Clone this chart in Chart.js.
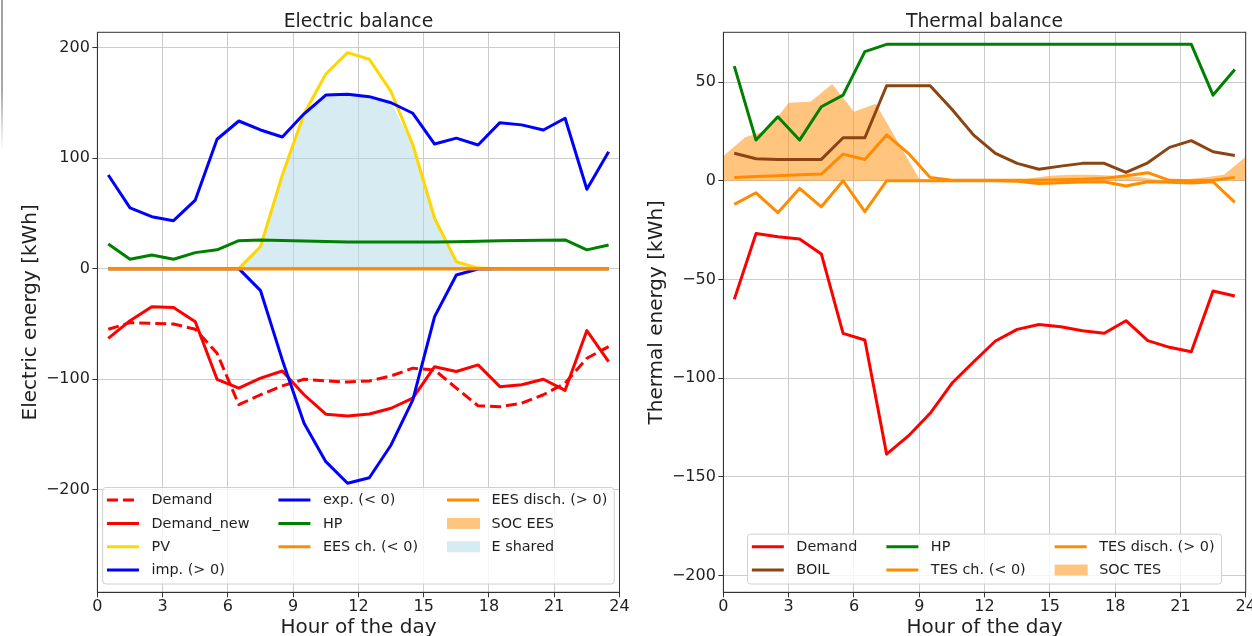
<!DOCTYPE html>
<html>
<head>
<meta charset="utf-8">
<title>Electric and thermal balance</title>
<script src="https://cdn.jsdelivr.net/npm/chart.js@4.4.1/dist/chart.umd.min.js"></script>
<style>
  html, body { margin: 0; padding: 0; background: #fff; width: 1252px; height: 636px; overflow: hidden; }
  canvas { position: absolute; top: 0; }
  #elec { left: 0; }
  #therm { left: 626px; }
  .edge { position: absolute; left: 1px; top: 0; width: 2px; height: 150px;
          background: linear-gradient(#a0a0a0, #a8a8a8 60%, rgba(170,170,170,0)); }
</style>
</head>
<body>
<div class="edge"></div>
<canvas id="elec" width="640" height="636"></canvas>
<canvas id="therm" width="626" height="636"></canvas>
<script>
// ---- time axis -------------------------------------------------------------
const hours = [0.5, 1.5, 2.5, 3.5, 4.5, 5.5, 6.5, 7.5, 8.5, 9.5, 10.5, 11.5,
               12.5, 13.5, 14.5, 15.5, 16.5, 17.5, 18.5, 19.5, 20.5, 21.5, 22.5, 23.5];
const socHours = [0, 1, 2, 3, 4, 5, 6, 7, 8, 9, 10, 11, 12,
                  13, 14, 15, 16, 17, 18, 19, 20, 21, 22, 23, 24];
const xTicks = [0, 3, 6, 9, 12, 15, 18, 21, 24];

// ---- electric balance [kWh] -----------------------------------------------
const elDemand    = [-54.8, -48.8, -49.4, -50, -54.8, -76.5, -123, -114, -106, -100, -101.5, -102.5,
                     -101.5, -97, -90, -91.6, -108, -124, -124.8, -121.7, -114, -103.6, -81, -70.5];
const elDemandNew = [-63, -47, -34.4, -35, -48, -100, -108, -99, -92.5, -114, -131.6, -133.2,
                     -131.4, -126.2, -117, -88.6, -93, -87, -106.7, -105, -100, -110, -56, -84];
const pv          = [0, 0, 0, 0, 0, 0, 0, 20, 84.7, 140, 176, 195.3,
                     189.3, 160, 112, 45.6, 6.3, 0.5, 0, 0, 0, 0, 0, 0];
const gridImport  = [84.7, 55, 47, 43.4, 62, 117, 133.5, 125.4, 119, 140, 157, 157.7,
                     155.5, 150, 140.5, 112.7, 118, 111.8, 132, 130, 125.4, 136, 71.8, 105.8];
const gridExport  = [0, 0, 0, 0, 0, 0, 0, -19.9, -82.5, -139.8, -174.5, -194,
                     -189, -159.4, -118.7, -43.4, -5.7, -0.3, 0, 0, 0, 0, 0, 0];
const elHP        = [22.3, 8.5, 12.4, 8.5, 14.5, 17, 25.3, 26, 25.5, 25, 24.5, 24,
                     24, 24, 24, 24, 24.3, 24.8, 25.2, 25.5, 25.7, 26, 17, 21.4];
const eesCharge   = [0, 0, 0, 0, 0, 0, 0, 0, 0, 0, 0, 0, 0, 0, 0, 0, 0, 0, 0, 0, 0, 0, 0, 0];
const eesDischarge= [0, 0, 0, 0, 0, 0, 0, 0, 0, 0, 0, 0, 0, 0, 0, 0, 0, 0, 0, 0, 0, 0, 0, 0];
const socEES      = [0, 0, 0, 0, 0, 0, 0, 0, 0, 0, 0, 0, 0, 0, 0, 0, 0, 0, 0, 0, 0, 0, 0, 0, 0];
const eShared     = [0, 0, 0, 0, 0, 0, 0, 20, 84.7, 140, 157, 157.7,
                     155.5, 150, 112, 45.6, 6.3, 0.5, 0, 0, 0, 0, 0, 0];
const elYTicks = [-200, -100, 0, 100, 200];

// ---- thermal balance [kWh] ------------------------------------------------
const thDemand    = [-60.1, -26.7, -28.4, -29.5, -37.1, -77.3, -80.7, -138.5, -129.3, -117.8, -102.6, -91.7,
                     -81.2, -75.3, -72.8, -74, -76, -77.3, -70.9, -81, -84.4, -86.6, -55.9, -58.4];
const boiler      = [13.9, 11.1, 10.8, 10.8, 10.8, 21.8, 21.8, 48.1, 48.1, 48.1, 36.2, 23.1,
                     13.9, 8.8, 5.8, 7.4, 8.8, 8.8, 4.2, 9.1, 16.9, 20.3, 14.7, 12.8];
const thHP        = [58.1, 20.6, 32.4, 20.6, 37.5, 43.4, 65.4, 69.1, 69.1, 69.1, 69.1, 69.1,
                     69.1, 69.1, 69.1, 69.1, 69.1, 69.1, 69.1, 69.1, 69.1, 69.1, 43.4, 56.4];
const tesCharge   = [-12, -6.1, -16.2, -3.9, -13.2, 0, -15.7, 0, 0, 0, 0, 0,
                     0, -0.3, -1.4, -1, -0.7, -0.5, -2.7, -0.5, -0.8, -1.2, -0.5, -11];
const tesDischarge= [1.7, 2.1, 2.5, 3.0, 3.4, 13.5, 10.8, 23.2, 13.9, 1.7, 0.3, 0.2,
                     0.2, 0.3, 0.2, 0.5, 0.8, 1.2, 2.5, 4.1, 0.2, 0, 0.3, 1.7];
const socTES      = [12.5, 22, 25.5, 39.5, 40, 49, 35, 39, 20, 1, 0, 0, 0,
                     0, 1, 2.5, 3, 3, 2.5, 2, 0.5, 0.5, 1.5, 3, 12.2];
const thYTicks = [-200, -150, -100, -50, 0, 50];

// ---- styling ---------------------------------------------------------------
const FONT = '"DejaVu Sans", "Liberation Sans", sans-serif';
const TEXT = '#1f1f1f';
Chart.defaults.font.family = FONT;
Chart.defaults.color = TEXT;

const pts = (xs, ys) => xs.map((x, i) => ({ x, y: ys[i] }));

function line(label, xs, ys, color, dash) {
  return {
    label, data: pts(xs, ys), borderColor: color, backgroundColor: color,
    borderWidth: 3, borderDash: dash || [], pointRadius: 0, tension: 0,
    borderJoinStyle: 'round', borderCapStyle: 'butt', fill: false
  };
}
function area(label, xs, ys, color) {
  return {
    label, data: pts(xs, ys), borderColor: 'rgba(0,0,0,0)', backgroundColor: color,
    borderWidth: 0, pointRadius: 0, tension: 0, fill: 'origin', legendBox: true
  };
}

// titles, frame and a column-major legend drawn on the canvas
const decorations = {
  id: 'decorations',
  afterDraw(chart, args, opts) {
    const ctx = chart.ctx, a = chart.chartArea;
    const cx = (a.left + a.right) / 2, cy = (a.top + a.bottom) / 2;
    ctx.save();

    // axes frame
    ctx.strokeStyle = '#333';
    ctx.lineWidth = 1;
    ctx.strokeRect(a.left, a.top, a.right - a.left, a.bottom - a.top);

    // title and axis labels
    ctx.fillStyle = TEXT;
    ctx.textAlign = 'center';
    ctx.textBaseline = 'alphabetic';
    ctx.font = '18.8px ' + FONT;
    ctx.fillText(opts.title, cx, 27);
    ctx.font = '20px ' + FONT;
    ctx.fillText(opts.xLabel, cx, 632.6);
    ctx.save();
    ctx.translate(35.5, cy);
    ctx.rotate(-Math.PI / 2);
    ctx.fillText(opts.yLabel, 0, 0);
    ctx.restore();

    // legend, three columns filled top to bottom
    const items = chart.data.datasets.map(d => ({
      label: d.label, box: !!d.legendBox,
      color: d.legendBox ? d.backgroundColor : d.borderColor,
      dash: d.borderDash || []
    }));
    const ncol = 3, n = items.length, nrows = Math.ceil(n / ncol);
    const nFull = n - ncol * (nrows - 1);
    const cols = [];
    let k = 0;
    for (let c = 0; c < ncol; c++) {
      const size = c < nFull ? nrows : nrows - 1;
      cols.push(items.slice(k, k + size));
      k += size;
    }
    const fs = 14.4;
    ctx.font = fs + 'px ' + FONT;
    const widths = cols.map(col => Math.max(...col.map(it => ctx.measureText(it.label).width)));
    const handleLen = 32, textOff = 44.5, colSep = 29, padL = 4.3, padR = 7;
    let W = padL + padR;
    cols.forEach((col, i) => { W += textOff + widths[i] + (i < ncol - 1 ? colSep : 0); });
    const x0 = cx - W / 2;
    const bottom = a.bottom - 8.3, rowStep = 23.3;
    const lastRow = bottom - 14;
    const firstRow = lastRow - (nrows - 1) * rowStep;
    const top = firstRow - 12.6;

    ctx.beginPath();
    ctx.roundRect(x0, top, W, bottom - top, 3);
    ctx.fillStyle = 'rgba(255,255,255,0.8)';
    ctx.fill();
    ctx.strokeStyle = '#d0d0d0';
    ctx.lineWidth = 1;
    ctx.stroke();

    let hx = x0 + padL;
    ctx.textAlign = 'left';
    ctx.textBaseline = 'middle';
    cols.forEach((col, i) => {
      col.forEach((it, r) => {
        const y = firstRow + r * rowStep;
        if (it.box) {
          ctx.fillStyle = it.color;
          ctx.fillRect(hx, y - 5.5, 33, 11);
        } else {
          ctx.beginPath();
          ctx.setLineDash(it.dash);
          ctx.strokeStyle = it.color;
          ctx.lineWidth = 3;
          ctx.moveTo(hx, y);
          ctx.lineTo(hx + handleLen, y);
          ctx.stroke();
          ctx.setLineDash([]);
        }
        ctx.fillStyle = TEXT;
        ctx.fillText(it.label, hx + textOff, y + 0.5);
      });
      hx += textOff + widths[i] + colSep;
    });
    ctx.restore();
  }
};

const minusFmt = v => (v < 0 ? '\u2212' + Math.abs(v) : String(v));

function makeChart(id, cfg) {
  return new Chart(document.getElementById(id), {
    type: 'line',
    data: { datasets: cfg.datasets.map((d, i, arr) => Object.assign(d, { order: arr.length - i })) },
    options: {
      responsive: false,
      animation: false,
      devicePixelRatio: 1,
      layout: { padding: { top: 32.3, right: cfg.padRight, bottom: 0, left: 0 } },
      plugins: {
        legend: { display: false },
        tooltip: { enabled: false },
        filler: { drawTime: 'beforeDatasetsDraw' },
        decorations: { title: cfg.title, xLabel: 'Hour of the day', yLabel: cfg.yLabel }
      },
      scales: {
        x: {
          type: 'linear', min: 0, max: 24,
          afterBuildTicks: s => { s.ticks = xTicks.map(v => ({ value: v })); },
          afterFit: s => { s.height = 43.7; s.paddingLeft = 0; s.paddingRight = 0; },
          ticks: { font: { size: 16 }, color: TEXT, padding: 0, maxRotation: 0, autoSkip: false },
          grid: { color: '#cccccc', lineWidth: 1, tickLength: 5, tickColor: '#333', tickWidth: 1 },
          border: { display: true, color: '#333', width: 1 }
        },
        y: {
          type: 'linear', min: cfg.yMin, max: cfg.yMax,
          afterBuildTicks: s => { s.ticks = cfg.yTicks.map(v => ({ value: v })); },
          afterFit: s => { s.width = 97.4; s.paddingTop = 0; s.paddingBottom = 0; },
          ticks: { font: { size: 16 }, color: TEXT, padding: 2.5, callback: minusFmt, autoSkip: false },
          grid: { color: '#cccccc', lineWidth: 1, tickLength: 5, tickColor: '#333', tickWidth: 1 },
          border: { display: true, color: '#333', width: 1 }
        }
      }
    },
    plugins: [decorations]
  });
}

makeChart('elec', {
  title: 'Electric balance',
  yLabel: 'Electric energy [kWh]',
  yMin: -292.6, yMax: 213.7, yTicks: elYTicks, padRight: 20.5,
  datasets: [
    line('Demand', hours, elDemand, '#ff0000', [11, 5]),
    line('Demand_new', hours, elDemandNew, '#ff0000'),
    line('PV', hours, pv, '#ffd700'),
    line('imp. (> 0)', hours, gridImport, '#0000ff'),
    line('exp. (< 0)', hours, gridExport, '#0000ff'),
    line('HP', hours, elHP, '#008000'),
    line('EES ch. (< 0)', hours, eesCharge, '#ff8c00'),
    line('EES disch. (> 0)', hours, eesDischarge, '#ff8c00'),
    area('SOC EES', socHours, socEES, 'rgba(255,140,0,0.5)'),
    area('E shared', hours, eShared, 'rgba(173,216,230,0.5)')
  ]
});

makeChart('therm', {
  title: 'Thermal balance',
  yLabel: 'Thermal energy [kWh]',
  yMin: -208.5, yMax: 75.2, yTicks: thYTicks, padRight: 6.3,
  datasets: [
    line('Demand', hours, thDemand, '#ff0000'),
    line('BOIL', hours, boiler, '#8b4513'),
    line('HP', hours, thHP, '#008000'),
    line('TES ch. (< 0)', hours, tesCharge, '#ff8c00'),
    line('TES disch. (> 0)', hours, tesDischarge, '#ff8c00'),
    area('SOC TES', socHours, socTES, 'rgba(255,140,0,0.5)')
  ]
});
</script>
</body>
</html>
